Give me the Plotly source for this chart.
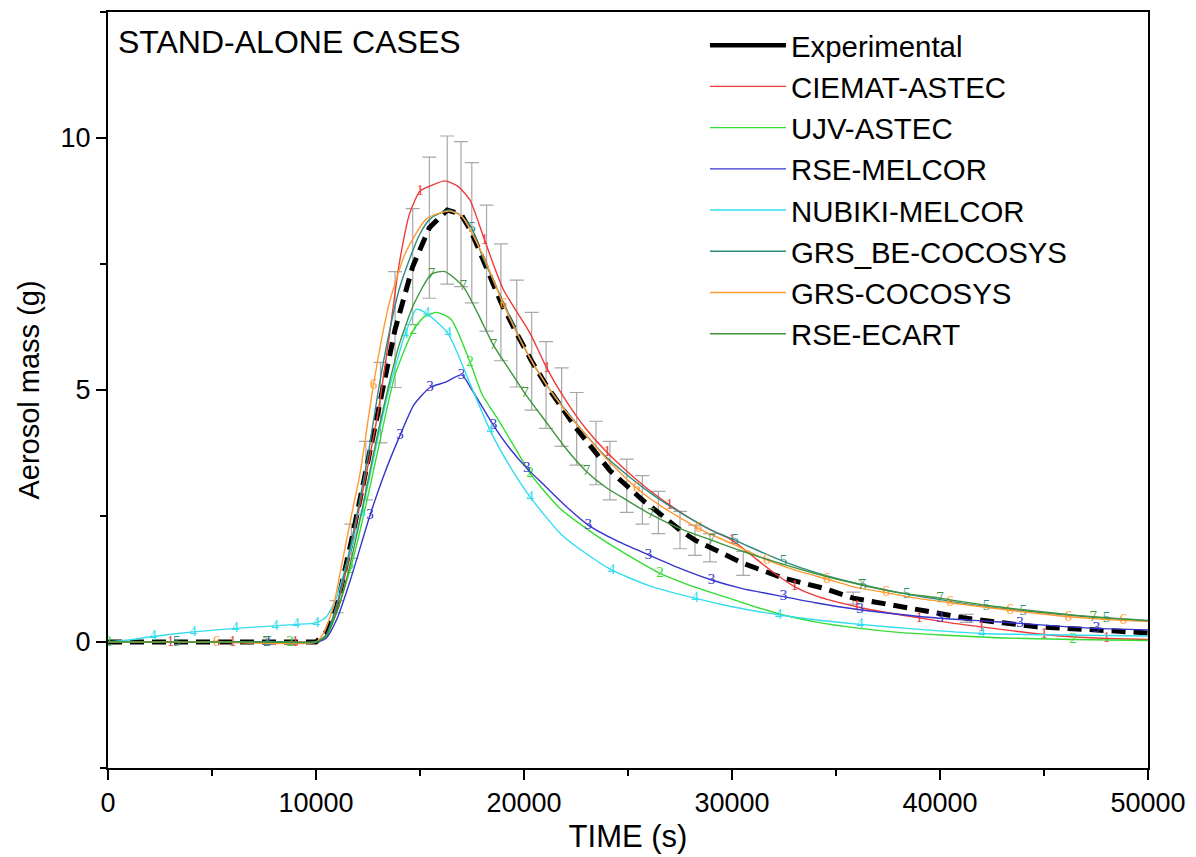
import plotly.graph_objects as go

# ---------------- data ----------------
exp_t = [0, 5000, 9000, 10000, 10500, 11000, 11700, 12400, 13100, 13800, 14650, 15450, 16310, 16970,
         17490, 18200, 18890, 19650, 20370, 21060, 21810, 22530, 23460, 24130, 24940, 25690, 26460,
         27500, 28220, 28940, 30540, 32450, 34380, 35830, 38230, 39680, 41280, 43030, 44660, 46590,
         48030, 50000]
exp_m = [0, 0, 0, 0, 0.2, 0.7, 2.0, 3.4, 4.75, 6.2, 7.45, 8.22, 8.57, 8.49,
         8.12, 7.42, 6.74, 6.12, 5.57, 5.10, 4.66, 4.23, 3.75, 3.40, 3.10, 2.82, 2.57,
         2.22, 2.02, 1.87, 1.56, 1.27, 1.07, 0.87, 0.69, 0.57, 0.47, 0.38, 0.30, 0.26,
         0.22, 0.18]
exp_err = [None, None, None, None, None, 0.12, 0.34, 0.58, 0.8, 1.15, 1.15, 1.4, 1.47, 1.44,
           1.39, 1.25, 1.16, 1.06, 0.97, 0.86, 0.78, 0.72, 0.63, 0.58, 0.53, 0.48, 0.42,
           0.37, 0.30, 0.28, 0.24, None, None, 0.12, None, None, 0.08, None, None, None,
           None, None]

names = ["CIEMAT-ASTEC", "UJV-ASTEC", "RSE-MELCOR", "NUBIKI-MELCOR",
         "GRS_BE-COCOSYS", "GRS-COCOSYS", "RSE-ECART"]
labels = ["1", "2", "3", "4", "5", "6", "7"]

c1_t = [0, 3000, 6000, 9000, 10000, 10500, 11000, 11500, 12000, 12500, 13000, 13500, 14000, 14500,
        15000, 15500, 16200, 16800, 17400, 18100, 19000, 20300, 21100, 22000, 23000, 24000, 25000,
        26000, 27000, 28000, 29000, 30000, 31000, 32000, 33000, 34000, 36000, 37500, 39000, 40500,
        42000, 43500, 45000, 46500, 48000, 50000]
c1_m = [0, 0, 0, 0, 0, 0.12, 0.7, 1.5, 2.5, 3.5, 4.6, 6.0, 7.5, 8.5,
        8.95, 9.05, 9.15, 9.05, 8.77, 7.98, 7.0, 6.12, 5.43, 4.8, 4.22, 3.76, 3.37,
        3.02, 2.72, 2.45, 2.22, 2.02, 1.7, 1.38, 1.1, 0.92, 0.70, 0.58, 0.48, 0.38,
        0.30, 0.22, 0.15, 0.10, 0.07, 0.05]
c1_mk = [3000, 6000, 9000, 15000, 18100, 21100, 24000, 27000, 30000, 33000, 36000, 39000,
         42000, 45000, 48000]

c2_t = [0, 3000, 6000, 8750, 10000, 10500, 11000, 11650, 12000, 12500, 13000, 13800, 14680, 15200,
        15800, 16500, 17400, 18000, 18700, 19500, 20290, 21000, 21730, 23000, 24000, 25000, 26540,
        28000, 30000, 32140, 34000, 36150, 38000, 40000, 43000, 46400, 50000]
c2_m = [0, 0, 0, 0, 0, 0.12, 0.6, 1.45, 2.0, 2.9, 3.85, 5.3, 6.19, 6.45,
        6.54, 6.4, 5.56, 4.9, 4.45, 3.9, 3.35, 2.98, 2.65, 2.25, 1.97, 1.72, 1.36,
        1.12, 0.85, 0.57, 0.4, 0.27, 0.19, 0.14, 0.08, 0.05, 0.03]
c2_mk = [0, 8750, 11650, 14680, 17400, 20290, 26540, 46400]

c3_t = [0, 4000, 7630, 10000, 10500, 11000, 11630, 12600, 13300, 14040, 14700, 15480, 16200, 17000,
        17500, 18530, 19300, 20130, 21000, 22000, 23090, 24500, 25980, 27500, 29020, 30500, 32470,
        34000, 36150, 38000, 40000, 42000, 43850, 45500, 47530, 50000]
c3_m = [0, 0, 0, 0, 0.08, 0.45, 1.2, 2.52, 3.35, 4.1, 4.7, 5.05, 5.15, 5.30,
        5.0, 4.30, 3.85, 3.45, 3.1, 2.7, 2.32, 2.0, 1.73, 1.46, 1.23, 1.06, 0.90,
        0.78, 0.64, 0.55, 0.47, 0.42, 0.37, 0.32, 0.27, 0.24]
c3_mk = [7630, 12600, 14040, 15480, 17000, 18530, 20130, 23090, 25980, 29020, 32470, 36150,
         40000, 43850, 47530]

c4_t = [0, 1000, 2160, 4090, 6110, 8030, 9040, 10000, 10500, 11000, 11500, 12200, 13000, 13500,
        14280, 14830, 15310, 16350, 17400, 18370, 19300, 20290, 21730, 23000, 24210, 26000, 28220,
        30000, 32230, 34000, 36150, 39000, 42000, 46000, 50000]
c4_m = [0, 0.04, 0.11, 0.2, 0.27, 0.32, 0.35, 0.38, 0.5, 0.9, 1.6, 2.56, 4.1, 5.0,
        6.1, 6.6, 6.52, 6.12, 5.13, 4.2, 3.5, 2.88, 2.16, 1.75, 1.43, 1.12, 0.87,
        0.7, 0.54, 0.44, 0.35, 0.25, 0.17, 0.14, 0.12]
c4_mk = [2160, 4090, 6110, 8030, 9040, 10000, 12200, 14280, 15310, 16350, 18370, 20290, 24210,
         28220, 32230, 36150, 42000]

c5_t = [0, 3300, 7700, 10000, 10500, 11000, 11500, 12000, 12500, 13000, 13500, 14000, 14500, 15000,
        15500, 16400, 17000, 17500, 18000, 19000, 20000, 21000, 22000, 23000, 24000, 25000, 26000,
        27000, 28000, 29000, 30140, 31000, 32470, 34000, 36310, 38400, 40000, 42240, 44000, 46000,
        48000, 50000]
c5_m = [0, 0, 0, 0, 0.15, 0.75, 1.6, 2.6, 3.7, 5.0, 6.1, 7.0, 7.6, 8.1,
        8.4, 8.57, 8.45, 8.2, 7.65, 6.75, 5.85, 5.15, 4.6, 4.1, 3.65, 3.3, 2.98,
        2.7, 2.45, 2.22, 2.02, 1.86, 1.6, 1.38, 1.13, 0.95, 0.84, 0.70, 0.62, 0.54,
        0.47, 0.43]
c5_mk = [3300, 7700, 17500, 30140, 32470, 36310, 38400, 42240, 44000, 48000]

c6_t = [0, 5220, 10000, 10400, 10830, 11310, 11700, 12120, 12760, 13480, 14280, 15320, 16400, 17000,
        18000, 19010, 20000, 21000, 22000, 23000, 24000, 25420, 26500, 28400, 30000, 31670, 33000,
        34550, 36000, 37400, 39000, 40480, 42000, 43370, 44800, 46170, 48810, 50000]
c6_m = [0, 0, 0, 0.2, 0.70, 1.69, 2.5, 3.35, 5.1, 6.65, 7.7, 8.4, 8.55, 8.45,
        7.7, 6.7, 5.85, 5.15, 4.58, 4.1, 3.62, 3.05, 2.72, 2.25, 1.95, 1.63, 1.43,
        1.25, 1.08, 0.98, 0.86, 0.78, 0.70, 0.63, 0.56, 0.50, 0.43, 0.41]
c6_mk = [5220, 12760, 19010, 25420, 28400, 31670, 34550, 37400, 40480, 43370, 46170, 48810]

c7_t = [0, 7600, 10000, 10500, 11000, 11500, 12000, 12500, 13000, 13500, 14000, 14700, 15550, 16200,
        17080, 17800, 18530, 19300, 20050, 21000, 22000, 23010, 24000, 25000, 26100, 27500, 29020,
        30500, 32000, 34000, 36230, 38000, 40000, 42000, 44000, 46000, 47370, 50000]
c7_m = [0, 0, 0, 0.12, 0.6, 1.3, 2.2, 3.2, 4.2, 5.1, 5.9, 6.7, 7.3, 7.35,
        7.05, 6.5, 5.89, 5.4, 4.93, 4.4, 3.85, 3.38, 3.05, 2.8, 2.53, 2.25, 2.02,
        1.8, 1.6, 1.36, 1.13, 0.98, 0.87, 0.74, 0.64, 0.55, 0.50, 0.42]
c7_mk = [7600, 15550, 17080, 18530, 20050, 23010, 26100, 29020, 36230, 40000, 47370]

colors = ["#EE3A3A", "#33DD33", "#3535CC", "#33DDEE", "#2E8B80", "#FF9A33", "#3C953C"]

series = [(c1_t, c1_m, c1_mk), (c2_t, c2_m, c2_mk), (c3_t, c3_m, c3_mk), (c4_t, c4_m, c4_mk),
          (c5_t, c5_m, c5_mk), (c6_t, c6_m, c6_mk), (c7_t, c7_m, c7_mk)]

FONT = "Arial, 'Liberation Sans', sans-serif"

fig = go.Figure()

# legend entry for experimental (solid)
fig.add_trace(go.Scatter(x=[None], y=[None], mode="lines", name="Experimental",
                         line=dict(color="black", width=4.5)))

# error bars
eb_x = [t for t, e in zip(exp_t, exp_err) if e is not None]
eb_y = [m for m, e in zip(exp_m, exp_err) if e is not None]
eb_e = [e for e in exp_err if e is not None]
fig.add_trace(go.Scatter(x=eb_x, y=eb_y, mode="markers", showlegend=False,
                         marker=dict(size=1, opacity=0),
                         error_y=dict(type="data", array=eb_e, visible=True,
                                      color="#A8A8A8", thickness=1.2, width=7)))

# experimental dashed
fig.add_trace(go.Scatter(x=exp_t, y=exp_m, mode="lines", showlegend=False,
                         line=dict(color="black", width=5, dash="14px,8px")))

for (t, m, mk), nm, col, lab in zip(series, names, colors, labels):
    fig.add_trace(go.Scatter(x=t, y=m, mode="lines", name=nm,
                             line=dict(color=col, width=1.4, shape="spline", smoothing=0.6)))
    tx = [a for a in t if a in mk]
    ty = [b for a, b in zip(t, m) if a in mk]
    fig.add_trace(go.Scatter(x=tx, y=ty, mode="text", text=[lab] * len(tx), showlegend=False,
                             textposition="middle center",
                             textfont=dict(family="'Liberation Serif', serif", size=15, color=col)))

fig.add_annotation(x=0, y=1, xref="paper", yref="paper", xanchor="left", yanchor="top",
                   xshift=8, yshift=-10, text="STAND-ALONE CASES", showarrow=False,
                   font=dict(family=FONT, size=32, color="black"))

fig.update_layout(
    width=1196, height=857,
    margin=dict(l=100, r=56, t=2, b=97),
    paper_bgcolor="white", plot_bgcolor="white",
    font=dict(family=FONT, color="black"),
    showlegend=True,
    legend=dict(x=0.574, y=0.99, xanchor="left", yanchor="top",
                font=dict(family=FONT, size=29.4, color="black"),
                bgcolor="rgba(0,0,0,0)", borderwidth=0, itemwidth=76,
                tracegroupgap=0),
    xaxis=dict(range=[0, 50000], tickvals=[0, 10000, 20000, 30000, 40000, 50000],
               ticktext=["0", "10000", "20000", "30000", "40000", "50000"],
               ticks="outside", ticklen=10, tickwidth=2, tickcolor="black",
               minor=dict(ticks="outside", ticklen=6, tickwidth=2, tickcolor="black", dtick=5000, tick0=0),
               showline=True, linecolor="black", linewidth=2, mirror=True,
               showgrid=False, zeroline=False,
               tickfont=dict(family=FONT, size=27),
               title=dict(text="TIME (s)", font=dict(family=FONT, size=31), standoff=8)),
    yaxis=dict(range=[-2.5, 12.5], tickvals=[0, 5, 10], ticktext=["0", "5", "10"],
               ticks="outside", ticklen=10, tickwidth=2, tickcolor="black",
               minor=dict(ticks="outside", ticklen=6, tickwidth=2, tickcolor="black", dtick=2.5, tick0=0),
               showline=True, linecolor="black", linewidth=2, mirror=True,
               showgrid=False, zeroline=False,
               tickfont=dict(family=FONT, size=27),
               title=dict(text="Aerosol mass (g)", font=dict(family=FONT, size=29), standoff=12)),
)

fig.write_html("out.html")
